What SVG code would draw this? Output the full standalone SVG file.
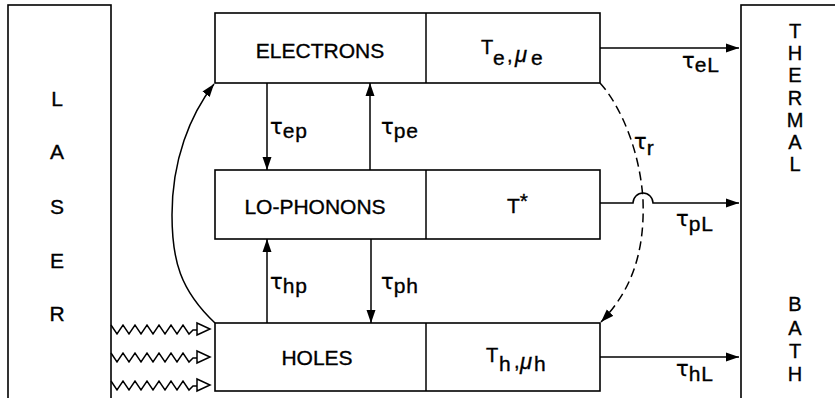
<svg xmlns="http://www.w3.org/2000/svg" width="835" height="398" viewBox="0 0 835 398">
<style>
  .box{fill:#fff;stroke:#000;stroke-width:1.6}
  .ln{fill:none;stroke:#000;stroke-width:1.5}
  .dash{fill:none;stroke:#000;stroke-width:1.5;stroke-dasharray:9 5}
  .tri{fill:#fff;stroke:#000;stroke-width:1.5;stroke-linejoin:miter}
  text{font-family:"Liberation Sans",Arial,sans-serif;fill:#000;stroke:#000;stroke-width:0.35}
  .big{font-size:21px}
  .side{font-size:20px;text-anchor:middle}
  .lab{font-size:20px}
  .tau{font-family:"DejaVu Sans",sans-serif;font-size:21px}
  .sub{font-size:21px;letter-spacing:1px}
</style>
<defs>
  <marker id="ah" markerUnits="userSpaceOnUse" markerWidth="14" markerHeight="10" refX="13" refY="5" orient="auto">
    <path d="M0,0.5 L13,5 L0,9.5 Z" fill="#000"/>
  </marker>
</defs>
<rect width="835" height="398" fill="#fff"/>

<g id="laser">
  <rect class="box" x="8" y="5" width="103" height="400"/>
  <text class="big" text-anchor="middle" x="57" y="106">L</text>
  <text class="big" text-anchor="middle" x="57" y="159">A</text>
  <text class="big" text-anchor="middle" x="57" y="214">S</text>
  <text class="big" text-anchor="middle" x="57" y="268">E</text>
  <text class="big" text-anchor="middle" x="57" y="321">R</text>
</g>

<g id="thermal-bath">
  <rect class="box" x="741" y="5" width="110" height="400"/>
  <text class="side" x="795" y="38">T</text>
  <text class="side" x="795" y="60">H</text>
  <text class="side" x="795" y="82">E</text>
  <text class="side" x="795" y="105">R</text>
  <text class="side" x="795" y="127">M</text>
  <text class="side" x="795" y="149">A</text>
  <text class="side" x="795" y="171">L</text>
  <text class="side" x="795" y="311">B</text>
  <text class="side" x="795" y="335">A</text>
  <text class="side" x="795" y="358">T</text>
  <text class="side" x="795" y="381">H</text>
</g>

<g id="electrons">
  <rect class="box" x="215" y="13" width="385" height="70"/>
  <line class="ln" x1="426" y1="13" x2="426" y2="83"/>
  <text class="big" x="320" y="58" text-anchor="middle">ELECTRONS</text>
  <text class="lab" x="481" y="54" font-size="18">T<tspan x="493" y="65" class="sub">e</tspan><tspan x="507" y="62">,</tspan><tspan x="515" y="62" font-size="22" font-style="italic">μ</tspan><tspan x="531" y="65" class="sub">e</tspan></text>
</g>

<g id="lo-phonons">
  <rect class="box" x="215" y="170" width="385" height="69"/>
  <line class="ln" x1="426" y1="170" x2="426" y2="239"/>
  <text class="big" x="315" y="214" text-anchor="middle">LO-PHONONS</text>
  <text class="big" x="507" y="213">T<tspan dy="-5">*</tspan></text>
</g>

<g id="holes">
  <rect class="box" x="215" y="323" width="385" height="68"/>
  <line class="ln" x1="426" y1="323" x2="426" y2="391"/>
  <text class="big" x="317" y="365" text-anchor="middle">HOLES</text>
  <text class="lab" x="486" y="362" font-size="18">T<tspan x="499" y="371" class="sub">h</tspan><tspan x="514" y="368">,</tspan><tspan x="520" y="369" font-size="22" font-style="italic">μ</tspan><tspan x="534" y="371" class="sub">h</tspan></text>
</g>

<g id="connectors">
  <!-- vertical exchanges -->
  <line class="ln" x1="267" y1="83" x2="267" y2="170" marker-end="url(#ah)"/>
  <line class="ln" x1="370" y1="170" x2="370" y2="83" marker-end="url(#ah)"/>
  <line class="ln" x1="267" y1="323" x2="267" y2="239" marker-end="url(#ah)"/>
  <line class="ln" x1="371" y1="239" x2="371" y2="323" marker-end="url(#ah)"/>
  <text x="270" y="134"><tspan class="tau">τ</tspan><tspan dy="4" class="sub">ep</tspan></text>
  <text x="381" y="134"><tspan class="tau">τ</tspan><tspan dy="4" class="sub">pe</tspan></text>
  <text x="270" y="289"><tspan class="tau">τ</tspan><tspan dy="4" class="sub">hp</tspan></text>
  <text x="381" y="289"><tspan class="tau">τ</tspan><tspan dy="4" class="sub">ph</tspan></text>

  <!-- to thermal bath -->
  <line class="ln" x1="600" y1="48" x2="739" y2="48" marker-end="url(#ah)"/>
  <path class="ln" d="M600,203 H633 A10,10 0 0 1 653,203 H739" marker-end="url(#ah)"/>
  <line class="ln" x1="600" y1="357" x2="739" y2="357" marker-end="url(#ah)"/>
  <text x="682" y="68"><tspan class="tau">τ</tspan><tspan dy="4" class="sub">eL</tspan></text>
  <text x="676" y="226"><tspan class="tau">τ</tspan><tspan dy="5" class="sub">pL</tspan></text>
  <text x="676" y="376"><tspan class="tau">τ</tspan><tspan dy="5" class="sub">hL</tspan></text>

  <!-- recombination -->
  <path class="dash" d="M600,83 C620,105 640,150 643,200 C645,255 630,292 601,322" marker-end="url(#ah)"/>
  <text x="634" y="149"><tspan class="tau">τ</tspan><tspan dy="6" class="sub">r</tspan></text>

  <!-- holes to electrons -->
  <path class="ln" d="M215,323 C180,290 172,260 172,215 C172,160 190,115 214,84" marker-end="url(#ah)"/>

  <!-- laser excitation -->
  <path class="ln" d="M111,325 l6,9 l6,-9 l6,9 l6,-9 l6,9 l6,-9 l6,9 l6,-9 l6,9 l6,-9 l6,9 l6,-9 l6,9 l4,-4 h4"/>
  <path class="tri" d="M197,323 L210,329 L197,335 Z"/>
  <path class="ln" d="M111,353 l6,9 l6,-9 l6,9 l6,-9 l6,9 l6,-9 l6,9 l6,-9 l6,9 l6,-9 l6,9 l6,-9 l6,9 l4,-4 h4"/>
  <path class="tri" d="M197,351 L210,357 L197,363 Z"/>
  <path class="ln" d="M111,381 l6,9 l6,-9 l6,9 l6,-9 l6,9 l6,-9 l6,9 l6,-9 l6,9 l6,-9 l6,9 l6,-9 l6,9 l4,-4 h4"/>
  <path class="tri" d="M197,379 L210,385 L197,391 Z"/>
</g>
</svg>
